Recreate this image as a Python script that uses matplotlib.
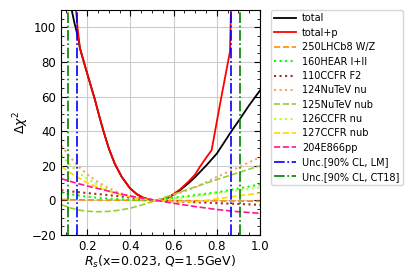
import numpy as np
import matplotlib
matplotlib.use('Agg')
from matplotlib import pyplot as plt
from matplotlib.ticker import MultipleLocator

### Data
x_total = [0.128, 0.14, 0.158, 0.166, 0.19, 0.21, 0.236, 0.255, 0.274, 0.30, 0.328,
           0.36, 0.398, 0.43, 0.46, 0.49, 0.52, 0.55, 0.58, 0.629, 0.67, 0.70,
           0.75, 0.80, 0.868, 0.907, 0.95, 1.00]
y_total = [110, 103, 94, 88, 77.5, 69, 58, 49, 40.5, 30, 21,
           13.5, 7, 3.5, 1.5, 0.4, 0, 0.4, 1.8, 5.8, 10, 13.5,
           20, 27, 40, 47, 55, 63.5]

x_totp = [0.148, 0.155, 0.166, 0.19, 0.21, 0.236, 0.255, 0.274, 0.30, 0.328,
          0.36, 0.398, 0.43, 0.46, 0.49, 0.52, 0.55, 0.58, 0.629, 0.67, 0.70,
          0.722, 0.75, 0.776, 0.814, 0.861, 0.866]
y_totp = [110, 100, 88, 77.5, 69, 58, 49, 40.5, 30, 21,
          13.5, 7, 3.5, 1.5, 0.4, 0, 0.4, 1.9, 6.2, 11, 15,
          19.5, 24.5, 29, 55, 86, 112]

x_data = [0.08, 0.12, 0.16, 0.20, 0.25, 0.30, 0.35, 0.40, 0.45, 0.52,
          0.60, 0.70, 0.80, 0.90, 1.00]
y_lhcb = [0.5, 0.4, 0.3, 0.25, 0.2, 0.15, 0.1, 0.05, 0.02, 0.0,
          -0.1, -0.25, -0.35, -0.45, -0.5]
y_hera = [4.5, 3.6, 2.8, 2.1, 1.5, 1.0, 0.6, 0.3, 0.1, 0.0,
          1.5, 3.0, 4.6, 6.8, 9.2]
y_ccfr_f2 = [5.8, 5.2, 4.7, 4.2, 3.6, 3.0, 2.3, 1.6, 0.9, 0.0,
             -0.6, -1.1, -1.6, -2.1, -2.6]
y_nutev_nu = [31.5, 25, 19.5, 15, 10.5, 7, 4.3, 2.3, 1.0, 0.0,
              3.0, 7.5, 13.5, 19, 25]
y_nutev_nub = [-2.5, -4.3, -5.6, -6.3, -6.6, -6.4, -5.7, -4.5, -2.8, 0.0,
               3.5, 7.8, 12, 16, 20]
y_ccfr_nu = [26, 20.5, 16, 12.5, 9, 6, 3.8, 2.2, 1.0, 0.0,
             1.0, 2.5, 4.2, 5.8, 7.5]
y_ccfr_nub = [19.5, 16, 13, 10.2, 7.5, 5.2, 3.4, 2.0, 0.9, 0.0,
              -0.7, -0.9, 0.8, 2.6, 4.2]
y_e866 = [12.5, 11, 9.6, 8.3, 6.8, 5.3, 3.8, 2.5, 1.3, 0.0,
          -1.7, -3.6, -5.3, -6.6, -7.5]

unc_lm = [0.154, 0.868]
unc_ct18 = [0.112, 0.907]

### Figure
fig = plt.figure(figsize=(4.2, 2.8), dpi=100)
ax = fig.add_axes([0.145, 0.161, 0.474, 0.803])

ax.plot(x_total, y_total, color='black', lw=1.3, label='total')
ax.plot(x_totp, y_totp, color='red', lw=1.3, label='total+p')
ax.plot(x_data, y_lhcb, color='darkorange', ls='--', lw=1.2, label='250LHCb8 W/Z')
ax.plot(x_data, y_hera, color='lime', ls=':', lw=1.5, label='160HEAR I+II')
ax.plot(x_data, y_ccfr_f2, color='brown', ls=':', lw=1.5, label='110CCFR F2')
ax.plot(x_data, y_nutev_nu, color='sandybrown', ls=':', lw=1.5, label='124NuTeV nu')
ax.plot(x_data, y_nutev_nub, color='yellowgreen', ls='--', lw=1.2, label='125NuTeV nub')
ax.plot(x_data, y_ccfr_nu, color='greenyellow', ls=':', lw=1.5, label='126CCFR nu')
ax.plot(x_data, y_ccfr_nub, color='gold', ls='--', lw=1.2, label='127CCFR nub')
ax.plot(x_data, y_e866, color='deeppink', ls='--', lw=1.2, label='204E866pp')

for i, xv in enumerate(unc_lm):
    ax.axvline(xv, color='blue', ls='-.', lw=1.2,
               label='Unc.[90% CL, LM]' if i == 0 else None)
for i, xv in enumerate(unc_ct18):
    ax.axvline(xv, color='green', ls='-.', lw=1.2,
               label='Unc.[90% CL, CT18]' if i == 0 else None)

ax.set_xlim(0.078, 1.0)
ax.set_ylim(-20, 110)
ax.xaxis.set_major_locator(MultipleLocator(0.2))
ax.xaxis.set_minor_locator(MultipleLocator(0.05))
ax.yaxis.set_major_locator(MultipleLocator(20))
ax.yaxis.set_minor_locator(MultipleLocator(5))
ax.tick_params(which='both', direction='in', top=True, right=True, labelsize=8.5)
ax.tick_params(which='major', length=4)
ax.tick_params(which='minor', length=2)
ax.grid(True, which='major', color='#cccccc', lw=0.8)

ax.set_xlabel(r'$R_s$(x=0.023, Q=1.5GeV)', fontsize=9, labelpad=1)
ax.set_ylabel(r'$\Delta\chi^2$', fontsize=9, labelpad=0)

ax.legend(loc='upper left', bbox_to_anchor=(1.054, 1.0), fontsize=7.0,
          handlelength=2.2, handletextpad=0.67, labelspacing=0.45,
          borderpad=0.35, borderaxespad=0.0)

plt.savefig('out.png', dpi=100)
